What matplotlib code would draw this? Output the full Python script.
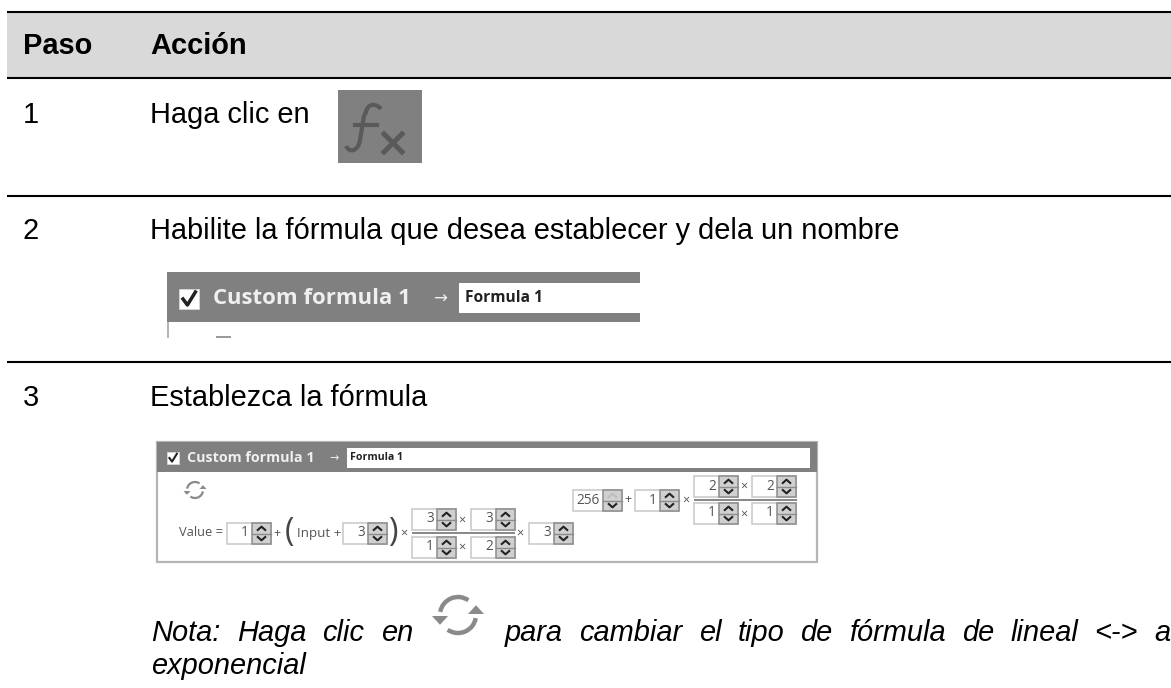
import numpy as np
import matplotlib
matplotlib.use("Agg")
import matplotlib.pyplot as plt
from matplotlib.patches import Rectangle, Arc, Polygon, PathPatch
from matplotlib.path import Path

plt.rcParams['font.family'] = ['Liberation Sans', 'DejaVu Sans']

headers = ["Paso", "Acción"]
steps = ["1", "2", "3"]
actions = ["Haga clic en", "Habilite la fórmula que desea establecer y dela un nombre", "Establezca la fórmula"]
note_first = "Nota: Haga clic en"
note_rest = "para cambiar el tipo de fórmula de lineal <-> a"
note_last = "exponencial"
panel_title = "Custom formula 1"
panel_name = "Formula 1"
spin_main = ["1", "3", "3", "3", "1", "2", "3"]
spin_side = ["256", "1", "2", "2", "1", "1"]

W, H = 1171, 688
fig = plt.figure(figsize=(W/100, H/100), dpi=100)
ax = fig.add_axes([0, 0, 1, 1])
ax.set_xlim(0, W); ax.set_ylim(H, 0); ax.axis('off')

FS = 20.9
DARK = '#000000'
ax.add_patch(Rectangle((7, 12), W - 7, 66, fc='#d9d9d9', ec='none', zorder=0))
for y in (12, 78, 196, 362):
    ax.plot([7, W], [y, y], color='black', lw=1.5, solid_capstyle='butt', zorder=1)

ax.text(23, 46.5, headers[0], fontsize=FS, fontweight='bold', va='center', color=DARK)
ax.text(150, 46.5, headers[1], fontsize=FS, fontweight='bold', va='center', color=DARK)
for s, a, y in zip(steps, actions, (115, 231, 398)):
    ax.text(23, y, s, fontsize=FS, va='center', color=DARK)
    ax.text(150, y, a, fontsize=FS, va='center', color=DARK)

# fx icon
ICON = '#5a5a5a'
ax.add_patch(Rectangle((338, 90), 84, 73, fc='#808080', ec='none'))
f_path = Path([(346, 146), (349, 153), (358, 152), (360, 140), (362, 128), (364, 116), (366, 112),
               (368, 103), (376, 103), (381, 109)],
              [Path.MOVETO, Path.CURVE4, Path.CURVE4, Path.CURVE4, Path.LINETO, Path.LINETO, Path.LINETO,
               Path.CURVE4, Path.CURVE4, Path.CURVE4])
ax.add_patch(PathPatch(f_path, fc='none', ec=ICON, lw=3))
ax.plot([355, 377], [125, 125], color=ICON, lw=3)
ax.plot([384, 402], [134, 152], color=ICON, lw=3.6)
ax.plot([384, 402], [152, 134], color=ICON, lw=3.6)


def check(x, y, s):
    ax.add_patch(Rectangle((x, y), s, s, fc='white', ec='#dddddd', lw=0.5, zorder=4))
    ax.plot([x + .2*s, x + .42*s, x + .82*s], [y + .5*s, y + .8*s, y + .15*s],
            color='#222222', lw=s/8, zorder=5)


def sync(cx, cy, r, a, col, lw):
    ax.add_patch(Arc((cx, cy), 2*r, 2*r, theta1=190, theta2=305, color=col, lw=lw, zorder=5))
    ax.add_patch(Arc((cx, cy), 2*r, 2*r, theta1=10, theta2=125, color=col, lw=lw, zorder=5))
    ax.add_patch(Polygon([(cx - r - a, cy + 1), (cx - r + a, cy + 1), (cx - r, cy + 1 + a*1.1)],
                         fc=col, ec='none', zorder=5))
    ax.add_patch(Polygon([(cx + r - a, cy - 1), (cx + r + a, cy - 1), (cx + r, cy - 1 - a*1.1)],
                         fc=col, ec='none', zorder=5))


# panel of row 2
ax.add_patch(Rectangle((167, 272), 473, 50, fc='#808080', ec='none', zorder=2))
ax.add_patch(Rectangle((167, 322), 2, 16, fc='#b5b5b5', ec='none', zorder=2))
ax.add_patch(Rectangle((459, 283), 181, 30, fc='white', ec='none', zorder=3))
ax.add_patch(Rectangle((459, 313), 181, 9, fc='#808080', ec='none', zorder=3))
check(179, 289, 20)
ax.text(213, 298, panel_title, fontsize=15.9, fontweight='bold', family='Open Sans', color='#efefef', va='center', zorder=4)
ax.text(440, 299, "→", fontsize=12, family='DejaVu Sans', color='#efefef', ha='center', va='center', zorder=4)
ax.text(465, 298, panel_name, fontsize=11.2, fontweight='bold', family='Open Sans', color='#222222', va='center', zorder=4)
ax.add_patch(Rectangle((216, 336), 15, 2, fc='#9a9a9a', ec='none', zorder=4))

# panel of row 3
ax.add_patch(Rectangle((157, 442), 660, 120, fc='white', ec='#b5b5b5', lw=1.6, zorder=2))
ax.add_patch(Rectangle((157, 442), 660, 30, fc='#808080', ec='none', zorder=3))
ax.add_patch(Rectangle((347, 448), 463, 20, fc='white', ec='none', zorder=4))
check(167, 452, 12)
ax.text(187, 458, panel_title, fontsize=10.3, fontweight='bold', family='Open Sans', color='#efefef', va='center', zorder=5)
ax.text(334, 458, "→", fontsize=8, family='DejaVu Sans', color='#efefef', ha='center', va='center', zorder=5)
ax.text(350, 457.5, panel_name, fontsize=7.6, fontweight='bold', family='Open Sans', color='#222222', va='center', zorder=5)
sync(195, 490, 8, 3.5, '#8a8a8a', 1.6)


def spin(x, y, value, w=44, h=21, disabled=False):
    ax.add_patch(Rectangle((x, y), w, h, fc='white', ec='#c8c8c8', lw=1.1, zorder=4))
    bx = x + w - 19
    ax.add_patch(Rectangle((bx, y), 19, h, fc='#d0d0d0', ec='#8c8c8c', lw=1.1, zorder=5))
    ax.plot([bx, bx + 19], [y + h/2, y + h/2], color='#8c8c8c', lw=1, zorder=6)
    for d, yc in ((-1, y + h*0.27), (1, y + h*0.73)):
        col = '#bdbdbd' if disabled and d == -1 else '#222222'
        ax.plot([bx + 5, bx + 9.5, bx + 14], [yc - d*2, yc + d*2, yc - d*2],
                color=col, lw=1.5, zorder=7, solid_capstyle='butt')
    ax.text(bx - 3, y + h/2 - 0.5, value, fontsize=9.8, family='Open Sans',
            color='#555555', ha='right', va='center', zorder=6)


def sym(x, y, s, fs=9):
    ax.text(x, y, s, fontsize=fs, family='Open Sans', color='#555555', ha='center', va='center', zorder=6)


# main expression
main_pos = [(227, 523), (343, 523), (412, 509), (471, 509), (412, 537), (471, 537), (529, 523)]
for (x, y), v in zip(main_pos, spin_main):
    spin(x, y, v)
ax.text(179, 533, "Value =", fontsize=9.3, family='Open Sans', color='#555555', ha='left', va='center', zorder=6)
sym(277, 534, "+")
ax.text(290, 532, "(", fontsize=23, family='Open Sans', color='#444444', ha='center', va='center', zorder=6)
ax.text(297, 533, "Input +", fontsize=9.6, family='Open Sans', color='#555555', ha='left', va='center', zorder=6)
ax.text(393, 532, ")", fontsize=23, family='Open Sans', color='#444444', ha='center', va='center', zorder=6)
sym(404, 533, "×"); sym(462, 520, "×"); sym(462, 547, "×"); sym(520, 533, "×")
ax.add_patch(Rectangle((412, 532), 103, 2, fc='#8a8a8a', ec='none', zorder=6))

# side expression
side_pos = [(573, 490), (635, 490), (694, 476), (752, 476), (694, 503), (752, 503)]
for i, ((x, y), v) in enumerate(zip(side_pos, spin_side)):
    spin(x, y, v, w=49 if i == 0 else 44, disabled=(i == 0))
sym(628, 500, "+"); sym(686, 500, "×"); sym(744, 486, "×"); sym(744, 514, "×")
ax.add_patch(Rectangle((694, 499), 103, 2, fc='#8a8a8a', ec='none', zorder=6))

# note
sync(458, 615, 18, 8, '#8a8a8a', 3.2)
fig.canvas.draw()
rend = fig.canvas.get_renderer()


def justify(text, x0, x1, y):
    words = text.split()
    artists = [ax.text(0, y, w, fontsize=FS, style='italic', va='center', color=DARK) for w in words]
    widths = [a.get_window_extent(rend).width for a in artists]
    gap = (x1 - x0 - sum(widths)) / (len(words) - 1)
    x = x0
    for a, wd in zip(artists, widths):
        a.set_x(x)
        x += wd + gap


justify(note_first, 151, 413, 633)
justify(note_rest, 505, 1170, 633)
ax.text(151, 666, note_last, fontsize=FS, style='italic', va='center', color=DARK)

fig.savefig("out.png", dpi=100)
